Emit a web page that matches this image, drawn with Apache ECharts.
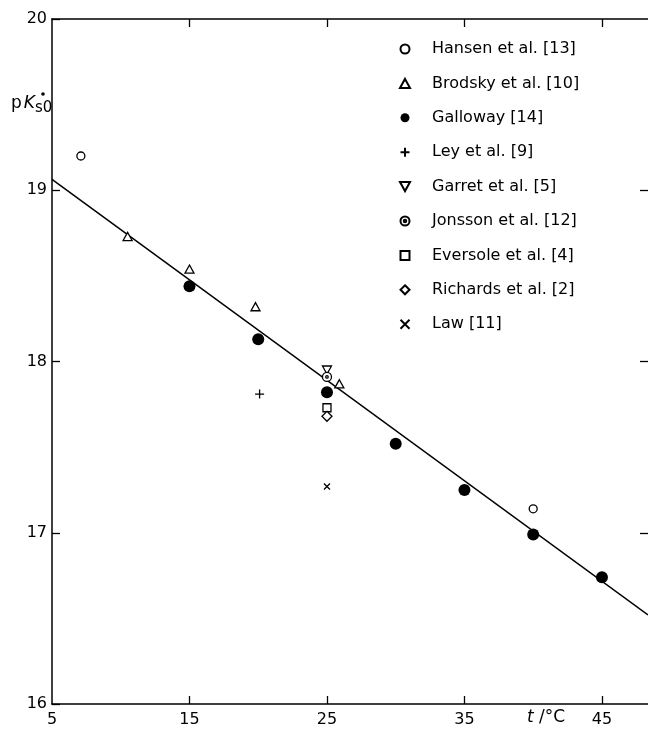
<!DOCTYPE html>
<html>
<head>
<meta charset="utf-8">
<script src="https://cdn.jsdelivr.net/npm/echarts@6/dist/echarts.min.js"></script>
<style>
html,body{margin:0;padding:0;background:#fff;}
#chart{width:648px;height:730px;}
</style>
</head>
<body>
<div id="chart"></div>
<script>
// ---- data ----
var xTickValues = [5, 15, 25, 35, 45];
var yTickValues = [16, 17, 18, 19, 20];
var legendNames = ['Hansen et al. [13]', 'Brodsky et al. [10]', 'Galloway [14]', 'Ley et al. [9]',
  'Garret et al. [5]', 'Jonsson et al. [12]', 'Eversole et al. [4]', 'Richards et al. [2]', 'Law [11]'];
var hansen   = [[7.1, 19.20], [40.0, 17.14]];
var brodsky  = [[10.5, 18.73], [15.0, 18.54], [19.8, 18.32], [25.9, 17.87]];
var galloway = [[15, 18.44], [20, 18.13], [25, 17.82], [30, 17.52], [35, 17.25], [40, 16.99], [45, 16.74]];
var ley      = [[20.1, 17.81]];
var garret   = [[25.0, 17.95]];
var jonsson  = [[25.0, 17.91]];
var eversole = [[25.0, 17.73]];
var richards = [[25.0, 17.68]];
var law      = [[25.0, 17.27]];
var fitLine  = [[5, 19.064], [48.35, 16.52]];

var X_MIN = 5, X_MAX = 48.35, Y_MIN = 16, Y_MAX = 20;

var chart = echarts.init(document.getElementById('chart'), null, {renderer: 'canvas'});
var FONT = 'DejaVu Sans';
var openStyle = {color: '#fff', borderColor: '#000', borderWidth: 1.3, opacity: 1};

var SYM_PLUS = 'path://M0,5 L10,5 M5,0 L5,10';
var SYM_X = 'path://M0,0 L10,10 M10,0 L0,10';
var SYM_UP = 'path://M5,0 L10,9 L0,9 Z';
var SYM_DOWN = 'path://M0,0 L10,0 L5,9 Z';
var SYM_SQ = 'path://M0,0 L10,0 L10,10 L0,10 Z';
var SYM_DIA = 'path://M5,0 L10,5 L5,10 L0,5 Z';
var SYM_DOT = 'path://M10,5 A5,5 0 1,1 0,5 A5,5 0 1,1 10,5 Z M6.4,5 A1.4,1.4 0 1,1 3.6,5 A1.4,1.4 0 1,1 6.4,5 Z';

function sc(name, data, symbol, size, style) {
  return {
    name: name, type: 'scatter', data: data, symbol: symbol, symbolSize: size,
    symbolKeepAspect: true,
    itemStyle: style, z: 5, silent: true
  };
}

var option = {
  backgroundColor: '#fff',
  animation: false,
  textStyle: {fontFamily: FONT, color: '#000'},
  grid: {left: 52, right: 0, top: 19, bottom: 26, containLabel: false},
  legend: {
    orient: 'vertical', left: 394, top: 34,
    itemWidth: 44, itemHeight: 9, itemGap: 14.4,
    symbolKeepAspect: true,
    textStyle: {fontFamily: FONT, fontSize: 16, color: '#000', lineHeight: 20},
    data: legendNames,
    selectedMode: false
  },
  xAxis: [{
    type: 'value', min: X_MIN, max: X_MAX, position: 'bottom',
    axisLine: {show: true, lineStyle: {color: '#000', width: 1.5}},
    axisTick: {show: true, inside: true, length: 8, lineStyle: {color: '#000', width: 1.3}, customValues: [15, 25, 35, 45]},
    axisLabel: {show: true, customValues: xTickValues, color: '#000', fontSize: 16, fontFamily: FONT, margin: 8},
    splitLine: {show: false}
  }, {
    type: 'value', min: X_MIN, max: X_MAX, position: 'top',
    axisLine: {show: true, lineStyle: {color: '#000', width: 1.5}},
    axisTick: {show: true, inside: true, length: 8, lineStyle: {color: '#000', width: 1.3}, customValues: [15, 25, 35, 45]},
    axisLabel: {show: false},
    splitLine: {show: false}
  }],
  yAxis: [{
    type: 'value', min: Y_MIN, max: Y_MAX, interval: 1, position: 'left',
    axisLine: {show: true, lineStyle: {color: '#000', width: 1.5}},
    axisTick: {show: true, inside: true, length: 8, lineStyle: {color: '#000', width: 1.3}},
    axisLabel: {show: true, customValues: yTickValues, color: '#000', fontSize: 16, fontFamily: FONT, margin: 5},
    splitLine: {show: false}
  }, {
    type: 'value', min: Y_MIN, max: Y_MAX, interval: 1, position: 'right',
    axisLine: {show: false},
    axisTick: {show: true, inside: true, length: 8, lineStyle: {color: '#000', width: 1.3}, customValues: [17, 18, 19]},
    axisLabel: {show: false},
    splitLine: {show: false}
  }],
  graphic: [{
    type: 'text', left: 11, top: 95,
    style: {
      text: '{p|p}{k|K}{s|s0}',
      rich: {
        p: {fontFamily: FONT, fontSize: 17, color: '#000', padding: [6, 0, 0, 0]},
        k: {fontFamily: FONT, fontSize: 17, fontStyle: 'italic', color: '#000', padding: [6, 0, 0, 2]},
        s: {fontFamily: FONT, fontSize: 15, color: '#000', padding: [16, 0, 0, 0]}
      }
    }
  }, {
    type: 'circle', shape: {cx: 43, cy: 94, r: 1.8}, style: {fill: '#000'}
  }, {
    type: 'text', left: 527, top: 709,
    style: {
      text: '{t|t}{n| /°C}',
      rich: {
        t: {fontFamily: FONT, fontSize: 17, fontStyle: 'italic', color: '#000'},
        n: {fontFamily: FONT, fontSize: 17, color: '#000'}
      }
    }
  }],
  series: [
    {
      name: 'fit', type: 'line', data: fitLine, showSymbol: false, symbol: 'none',
      lineStyle: {color: '#000', width: 1.5}, z: 3, silent: true
    },
    sc(legendNames[0], hansen, 'circle', 8, openStyle),
    sc(legendNames[1], brodsky, SYM_UP, 9, openStyle),
    sc(legendNames[2], galloway, 'circle', 12, {color: '#000', opacity: 1}),
    sc(legendNames[3], ley, SYM_PLUS, 9, openStyle),
    sc(legendNames[4], garret, SYM_DOWN, 9, openStyle),
    sc(legendNames[5], jonsson, SYM_DOT, 9, openStyle),
    sc(legendNames[6], eversole, SYM_SQ, 8, openStyle),
    sc(legendNames[7], richards, SYM_DIA, 10, openStyle),
    sc(legendNames[8], law, SYM_X, 6, openStyle)
  ]
};
chart.setOption(option);
</script>
</body>
</html>
